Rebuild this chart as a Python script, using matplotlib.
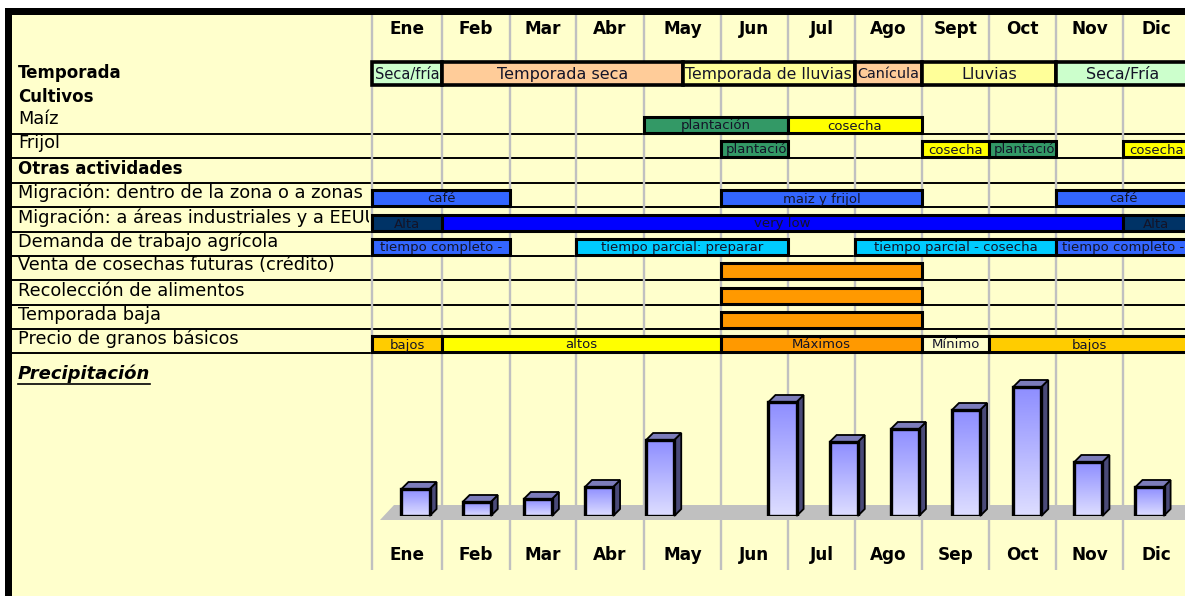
import numpy as np
import matplotlib
matplotlib.use("Agg")
import matplotlib.pyplot as plt
from matplotlib.patches import Rectangle, Polygon
from matplotlib.colors import LinearSegmentedColormap

# ---- datos ----
meses = ["Ene", "Feb", "Mar", "Abr", "May", "Jun", "Jul", "Ago", "Sept", "Oct", "Nov", "Dic"]
meses_abajo = ["Ene", "Feb", "Mar", "Abr", "May", "Jun", "Jul", "Ago", "Sep", "Oct", "Nov", "Dic"]

# (mes inicio, mes fin, texto, tipo)
temporada = [(0, 1, "Seca/fría", "fria"), (1, 4.5, "Temporada seca", "seca"),
             (4.5, 7, "Temporada de lluvias", "lluvia"), (7, 8, "Canícula", "seca"),
             (8, 10, "Lluvias", "lluvia"), (10, 12, "Seca/Fría", "fria")]
maiz = [(4, 6, "plantación", "plant"), (6, 8, "cosecha", "cosecha")]
frijol = [(5, 6, "plantación", "plant"), (8, 9, "cosecha", "cosecha"),
          (9, 10, "plantación", "plant"), (11, 12, "cosecha", "cosecha")]
mig_zona = [(0, 2, "café", "azul"), (5, 8, "maiz y frijol", "azul"), (10, 12, "café", "azul")]
mig_ind = [(0, 1, "Alta", "navy"), (1, 11, "very low", "blue"), (11, 12, "Alta", "navy")]
demanda = [(0, 2, "tiempo completo -", "azul"), (3, 6, "tiempo parcial: preparar", "cyan"),
           (7, 10, "tiempo parcial - cosecha", "cyan"), (10, 12, "tiempo completo -", "azul")]
venta = [(5, 8, "", "naranja")]
recoleccion = [(5, 8, "", "naranja")]
baja = [(5, 8, "", "naranja")]
precio = [(0, 1, "bajos", "oro"), (1, 5, "altos", "amarillo"), (5, 8, "Máximos", "naranja"),
          (8, 9, "Mínimo", "crema"), (9, 12, "bajos", "oro")]

etiquetas_filas = ["Maíz", "Frijol", "Otras actividades",
                   "Migración: dentro de la zona o a zonas",
                   "Migración: a áreas industriales y a EEUU",
                   "Demanda de trabajo agrícola",
                   "Venta de cosechas futuras (crédito)",
                   "Recolección de alimentos", "Temporada baja",
                   "Precio de granos básicos"]
barras_filas = [maiz, frijol, None, mig_zona, mig_ind, demanda, venta, recoleccion, baja, precio]

# precipitación (mm aprox.), hay un hueco vacío entre May y Jun
precip_cat = ["Ene", "Feb", "Mar", "Abr", "May", "", "Jun", "Jul", "Ago", "Sep", "Oct", "Nov", "Dic"]
precip_mm = [54, 28, 34, 58, 152, np.nan, 228, 148, 174, 212, 258, 108, 58]

COLORES = {"fria": "#ccffcc", "seca": "#ffcc99", "lluvia": "#ffff99", "plant": "#339966",
           "cosecha": "#ffff00", "azul": "#3366ff", "navy": "#003366", "blue": "#0000ff",
           "cyan": "#00ccff", "naranja": "#ff9900", "oro": "#ffcc00", "amarillo": "#ffff00",
           "crema": "#ffffcc"}

# ---- layout (pixeles) ----
W, H = 1185, 596
bordes = [372, 442, 510, 576, 644, 721, 788, 855, 922, 989, 1056, 1123, 1190]
y_lineas = [134, 158, 183, 207, 232, 256, 280, 305, 329, 353]


def mx(m):
    return np.interp(m, np.arange(13), bordes)


fig = plt.figure(figsize=(W / 100, H / 100), dpi=100)
fig.patch.set_facecolor("white")
ax = fig.add_axes([0, 0, 1, 1])
ax.set_xlim(0, W)
ax.set_ylim(H, 0)
ax.axis("off")
renderer = fig.canvas.get_renderer()

ax.add_patch(Rectangle((12, 15), W, H, facecolor="#ffffcc", edgecolor="none", zorder=0))
ax.add_patch(Rectangle((5, 8), W, 7, facecolor="black", edgecolor="none", zorder=6))
ax.add_patch(Rectangle((5, 8), 7, H, facecolor="black", edgecolor="none", zorder=6))

# rejilla de meses
ax.vlines(bordes[:12], 15, 570, color="#c0c0c0", lw=1.7, zorder=2)
ax.hlines(y_lineas, 12, W, color="black", lw=1.4, zorder=1.5)

for i, m in enumerate(meses):
    xc = (bordes[i] + bordes[i + 1]) / 2
    ax.text(xc, 29, m, ha="center", va="center", fontsize=12.2, fontweight="bold", zorder=4)
for i, m in enumerate(meses_abajo):
    xc = (bordes[i] + bordes[i + 1]) / 2
    ax.text(xc, 555, m, ha="center", va="center", fontsize=12.2, fontweight="bold", zorder=4)


def dibujar_barras(barras, y0, alto, tam, ajustar=False, lw=2.2):
    for ini, fin, texto, tipo in barras:
        x0, x1 = mx(ini), mx(fin)
        rect = Rectangle((x0, y0), x1 - x0, alto, facecolor=COLORES[tipo],
                         edgecolor="black", lw=lw, zorder=3)
        ax.add_patch(rect)
        if not texto:
            continue
        t = ax.text((x0 + x1) / 2, y0 + alto / 2 + 1, texto, ha="center", va="center",
                    fontsize=tam, color="#141428", zorder=4)
        w = t.get_window_extent(renderer=renderer).width
        if w > x1 - x0 - 4:
            if ajustar:
                t.set_fontsize(tam * (x1 - x0 - 5) / w)
            else:
                t.set_horizontalalignment("left")
                t.set_x(x0 + 5)
        t.set_clip_path(rect)
        t.set_clip_on(True)


# etiquetas de la izquierda (recortadas al borde de la tabla)
lax = fig.add_axes([12 / W, 0, (369 - 12) / W, 1])
lax.set_xlim(12, 369)
lax.set_ylim(H, 0)
lax.axis("off")

lax.text(18, 73, "Temporada", fontsize=12, fontweight="bold", va="center", clip_on=True)
lax.text(18, 97, "Cultivos", fontsize=12, fontweight="bold", va="center", clip_on=True)
dibujar_barras(temporada, 62, 23, 11.5, ajustar=True, lw=2.6)

for etiqueta, barras, yb in zip(etiquetas_filas, barras_filas, y_lineas):
    if barras is None:
        lax.text(18, yb - 14, etiqueta, fontsize=12, fontweight="bold", va="center", clip_on=True)
        continue
    lax.text(18, yb - 14.5, etiqueta, fontsize=12.8, va="center", clip_on=True)
    dibujar_barras(barras, yb - 17, 16, 9.5)

t = ax.text(18, 374, "Precipitación", fontsize=13, fontweight="bold", style="italic",
            va="center", zorder=4)
bb = t.get_window_extent(renderer=renderer)
ax.plot([18, 18 + bb.width], [384, 384], color="black", lw=1.2, zorder=4)

# ---- grafico de precipitacion ----
pax = fig.add_axes([372 / W, (H - 516) / H, (W - 372) / W, 146 / H])
pax.axis("off")
xmin, xmax, ymax = -0.711, 12.58, 292
px_x = (W - 372) / (xmax - xmin)
px_y = 146 / ymax
dx, dy = 7 / px_x, 7 / px_y

slots = np.arange(len(precip_cat))
valores = np.array(precip_mm, dtype=float)
ok = ~np.isnan(valores)
barras = pax.bar(slots[ok], valores[ok], width=0.46, facecolor="none",
                 edgecolor="black", lw=2.4, zorder=5)

# piso gris
x_bl = xmin + 8 / px_x
piso = Polygon([(x_bl, -4 / px_y), (x_bl + 14 / px_x, 11 / px_y),
                (xmax + 1, 11 / px_y), (xmax + 1 - 14 / px_x, -4 / px_y)],
               facecolor="#c0c0c0", edgecolor="none", zorder=1, clip_on=False)
pax.add_patch(piso)

cmap = LinearSegmentedColormap.from_list("prec", ["#dedeff", "#8e8eff"])
grad = np.linspace(0, 1, 128).reshape(-1, 1)
for b in barras:
    x0, x1, h = b.get_x(), b.get_x() + b.get_width(), b.get_height()
    pax.add_patch(Polygon([(x1, 0), (x1 + dx, dy), (x1 + dx, h + dy), (x1, h)],
                          facecolor="#4a4a78", edgecolor="black", lw=1.3, zorder=4, clip_on=False))
    pax.add_patch(Polygon([(x0, h), (x1, h), (x1 + dx, h + dy), (x0 + dx, h + dy)],
                          facecolor="#7c7cba", edgecolor="black", lw=1.3, zorder=4, clip_on=False))
    pax.imshow(grad, extent=(x0, x1, 0, h), origin="lower", cmap=cmap, aspect="auto",
               zorder=4.5, interpolation="bilinear")

pax.set_xlim(xmin, xmax)
pax.set_ylim(0, ymax)

fig.savefig("out.png", dpi=100)
